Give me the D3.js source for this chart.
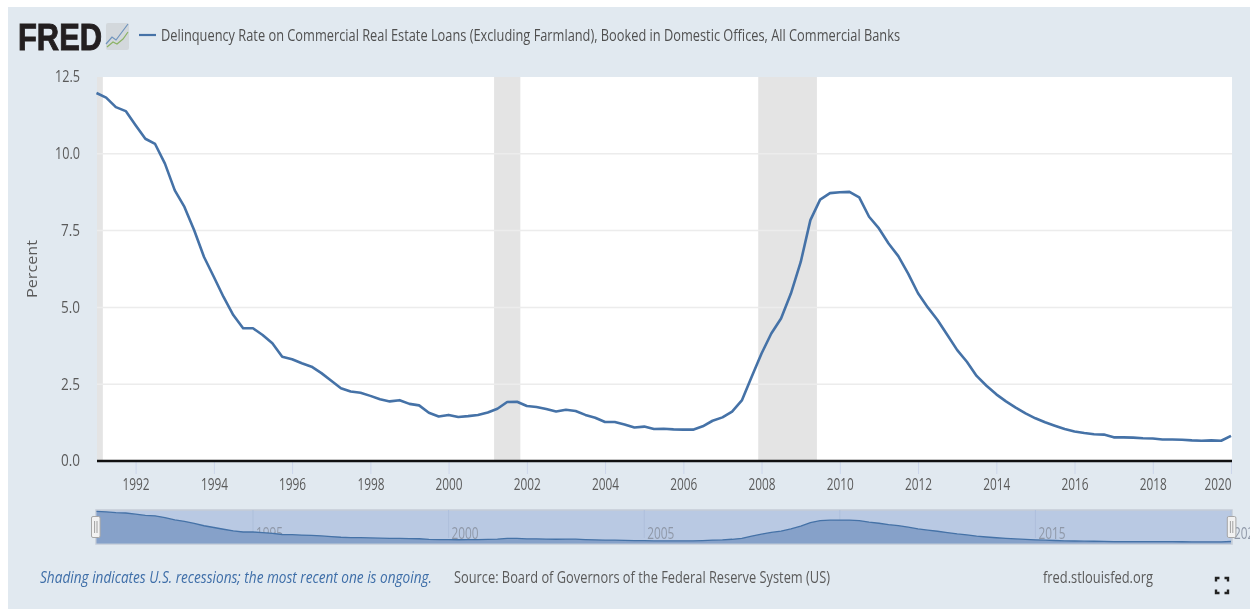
<!DOCTYPE html>
<html>
<head>
<meta charset="utf-8">
<script src="https://cdn.jsdelivr.net/npm/d3@7"></script>
<style>
html,body{margin:0;padding:0;background:#fff;overflow:hidden}
svg{display:block;filter:blur(0.4px)}
text{font-family:"Open Sans",sans-serif}
</style>
</head>
<body>
<svg id="chart" width="1250" height="609"></svg>
<script>
const seriesTitle = "Delinquency Rate on Commercial Real Estate Loans (Excluding Farmland), Booked in Domestic Offices, All Commercial Banks";
const startDate = "1991-01-01";
const rates = [
 11.98,11.83,11.52,11.39,10.93,10.49,10.32,9.68,8.81,8.27,7.51,6.64,
 5.99,5.34,4.75,4.32,4.32,4.10,3.83,3.39,3.31,3.18,3.07,2.86,
 2.61,2.37,2.26,2.22,2.12,2.01,1.94,1.98,1.86,1.81,1.57,1.45,
 1.50,1.43,1.46,1.50,1.58,1.70,1.92,1.93,1.79,1.76,1.69,1.61,
 1.67,1.63,1.50,1.41,1.27,1.27,1.19,1.09,1.12,1.04,1.05,1.03,
 1.02,1.02,1.13,1.31,1.42,1.61,1.97,2.74,3.50,4.15,4.64,5.45,
 6.48,7.84,8.51,8.72,8.75,8.76,8.58,7.95,7.57,7.08,6.67,6.10,
 5.46,5.00,4.59,4.10,3.61,3.23,2.77,2.45,2.17,1.94,1.74,1.55,
 1.39,1.26,1.15,1.04,0.96,0.91,0.87,0.86,0.77,0.77,0.76,0.74,
 0.73,0.70,0.70,0.69,0.67,0.66,0.67,0.66,0.82
];
const recessions = [
 ["1990-07-01","1991-03-01"],
 ["2001-03-01","2001-11-01"],
 ["2007-12-01","2009-06-01"]
];
const yTickValues = [0,2.5,5,7.5,10,12.5];
const xTickYears = [1992,1994,1996,1998,2000,2002,2004,2006,2008,2010,2012,2014,2016,2018,2020];
const navTickYears = [1995,2000,2005,2010,2015,2020];
const shadingNote = "Shading indicates U.S. recessions; the most recent one is ongoing.";
const sourceNote = "Source: Board of Governors of the Federal Reserve System (US)";
const siteNote = "fred.stlouisfed.org";

const parse = d3.utcParse("%Y-%m-%d");
const start = parse(startDate);
const data = rates.map((v,i)=>({date:d3.utcMonth.offset(start,i*3),value:v}));
const yr = y => new Date(Date.UTC(y,0,1));

const svg = d3.select("#chart");
const blue = "#4572a7", txt = "#5a5a5a";
const plot = {l:97,r:1232,t:77,b:461};
const nav = {t:510,b:544};

// panel
svg.append("rect").attr("x",8).attr("y",7).attr("width",1242).attr("height",602).attr("fill","#e1e9f0");

const x = d3.scaleUtc().domain([start,data[data.length-1].date]).range([96.5,1231]);
const y = d3.scaleLinear().domain([0,12.5]).range([plot.b,plot.t]);
const yNav = d3.scaleLinear().domain([0,12.5]).range([543.6,510]);

// header
const logo = svg.append("g");
logo.append("text").attr("x",18).attr("y",50).attr("font-size",37).attr("font-weight",700)
  .attr("fill","#231f20").attr("stroke","#231f20").attr("stroke-width",1)
  .attr("textLength",84).attr("lengthAdjust","spacingAndGlyphs")
  .style("font-family","'Liberation Sans',sans-serif").text("FRED");
logo.append("rect").attr("x",106).attr("y",23).attr("width",23).attr("height",27).attr("rx",2).attr("fill","#d3d8dc");
logo.append("polyline").attr("points","106,44 112,37 116,40 122,32 128,24").attr("fill","none").attr("stroke","#6f94bd").attr("stroke-width",1.2);
logo.append("polyline").attr("points","107,47 113,42 117,44 123,39 128,32").attr("fill","none").attr("stroke","#8bb264").attr("stroke-width",1.2);

svg.append("line").attr("x1",139).attr("x2",156).attr("y1",35).attr("y2",35).attr("stroke",blue).attr("stroke-width",2.2);
svg.append("text").attr("x",161).attr("y",41).attr("font-size",16.5).attr("fill","#505050")
  .attr("textLength",739).attr("lengthAdjust","spacingAndGlyphs").text(seriesTitle);

// plot background
svg.append("rect").attr("x",plot.l).attr("y",plot.t).attr("width",plot.r-plot.l).attr("height",plot.b-plot.t).attr("fill","#fff");

// recessions
svg.append("g").selectAll("rect").data(recessions).join("rect")
  .attr("x",d=>Math.max(plot.l,x(parse(d[0]))))
  .attr("width",d=>x(parse(d[1]))-Math.max(plot.l,x(parse(d[0]))))
  .attr("y",plot.t).attr("height",plot.b-plot.t).attr("fill","#e4e4e4");

// y axis
const yAxis = svg.append("g").attr("transform",`translate(${plot.l},0)`)
  .call(d3.axisLeft(y).tickValues(yTickValues).tickFormat(d3.format(".1f")).tickSize(0).tickPadding(17));
yAxis.select(".domain").remove();
yAxis.selectAll("text").attr("font-size",16).attr("fill",txt).style("font-family","'Open Sans',sans-serif")
  .attr("textLength",d=>d>=10?25:19).attr("lengthAdjust","spacingAndGlyphs").attr("dy","0.3em");
svg.append("g").selectAll("line").data(yTickValues.filter(v=>v>0 && v<12.5)).join("line")
  .attr("x1",plot.l).attr("x2",plot.r).attr("y1",d=>y(d)).attr("y2",d=>y(d))
  .attr("stroke","#ececec").attr("stroke-width",1.5);

svg.append("text").attr("transform","translate(37,269) rotate(-90)").attr("text-anchor","middle")
  .attr("font-size",14).attr("fill",txt).attr("textLength",58).attr("lengthAdjust","spacingAndGlyphs").text("Percent");

// x axis
const xAxis = svg.append("g").attr("transform",`translate(0,${plot.b})`)
  .call(d3.axisBottom(x).tickValues(xTickYears.map(yr)).tickFormat(d3.utcFormat("%Y")).tickSize(13).tickPadding(5));
xAxis.select(".domain").remove();
xAxis.selectAll("line").attr("stroke","#ccd6eb");
xAxis.selectAll("text").attr("font-size",16).attr("fill",txt).style("font-family","'Open Sans',sans-serif")
  .attr("textLength",27).attr("lengthAdjust","spacingAndGlyphs");
xAxis.selectAll("g.tick").filter(d=>d.getUTCFullYear()===2020).select("text").attr("text-anchor","end").attr("x",0);

// series
svg.append("path").datum(data).attr("fill","none").attr("stroke",blue).attr("stroke-width",2.6)
  .attr("stroke-linejoin","round")
  .attr("d",d3.line().x(d=>x(d.date)).y(d=>y(d.value)));

// baseline
svg.append("line").attr("x1",plot.l).attr("x2",plot.r).attr("y1",plot.b).attr("y2",plot.b)
  .attr("stroke","#111").attr("stroke-width",2.5);

// navigator
svg.append("rect").attr("x",plot.l-1).attr("y",nav.t).attr("width",plot.r-plot.l+1).attr("height",nav.b-nav.t)
  .attr("fill","#b9c9e3").attr("stroke","#c5ccd6").attr("stroke-width",1.5);
const navTicks = svg.append("g").selectAll("g").data(navTickYears).join("g")
  .attr("transform",d=>`translate(${x(yr(d))},0)`);
navTicks.append("line").attr("y1",nav.t).attr("y2",nav.t+28).attr("stroke","#aebfdb");
svg.append("path").datum(data).attr("fill","#86a1c9")
  .attr("d",d3.area().x(d=>x(d.date)).y0(nav.b-0.5).y1(d=>yNav(d.value)));
svg.append("path").datum(data).attr("fill","none").attr("stroke",blue).attr("stroke-width",1.3)
  .attr("d",d3.line().x(d=>x(d.date)).y(d=>yNav(d.value)));
navTicks.append("text").attr("x",3).attr("y",539).attr("font-size",16).attr("fill","#8f98a8")
  .attr("textLength",27).attr("lengthAdjust","spacingAndGlyphs").text(d=>d);

// handles
[95.8,1231.6].forEach(cx=>{
  const h = svg.append("g").attr("transform",`translate(${cx},527)`);
  h.append("rect").attr("x",-4.3).attr("y",-10.5).attr("width",8.6).attr("height",21).attr("rx",1.5)
    .attr("fill","#f2f2f2").attr("stroke","#a6a6a6");
  [-1.2,1.2].forEach(o=>h.append("line").attr("x1",o).attr("x2",o).attr("y1",-6).attr("y2",6).attr("stroke","#a0a0a0"));
});

// footer
svg.append("text").attr("x",40).attr("y",583).attr("font-size",15.5).attr("font-style","italic").attr("fill","#3e6ea8")
  .attr("textLength",392).attr("lengthAdjust","spacingAndGlyphs").text(shadingNote);
svg.append("text").attr("x",454).attr("y",583).attr("font-size",16).attr("fill",txt)
  .attr("textLength",376).attr("lengthAdjust","spacingAndGlyphs").text(sourceNote);
svg.append("text").attr("x",1043).attr("y",583).attr("font-size",16).attr("fill",txt)
  .attr("textLength",110).attr("lengthAdjust","spacingAndGlyphs").text(siteNote);

// expand icon
const ic = svg.append("g").attr("fill","none").attr("stroke","#222").attr("stroke-width",2.4);
[[1216,578,1,1],[1228,578,-1,1],[1216,593,1,-1],[1228,593,-1,-1]].forEach(([a,b,p,q])=>{
  ic.append("path").attr("d",`M${a},${b+q*3.5}V${b}H${a+p*3.5}`);
});
</script>
</body>
</html>
